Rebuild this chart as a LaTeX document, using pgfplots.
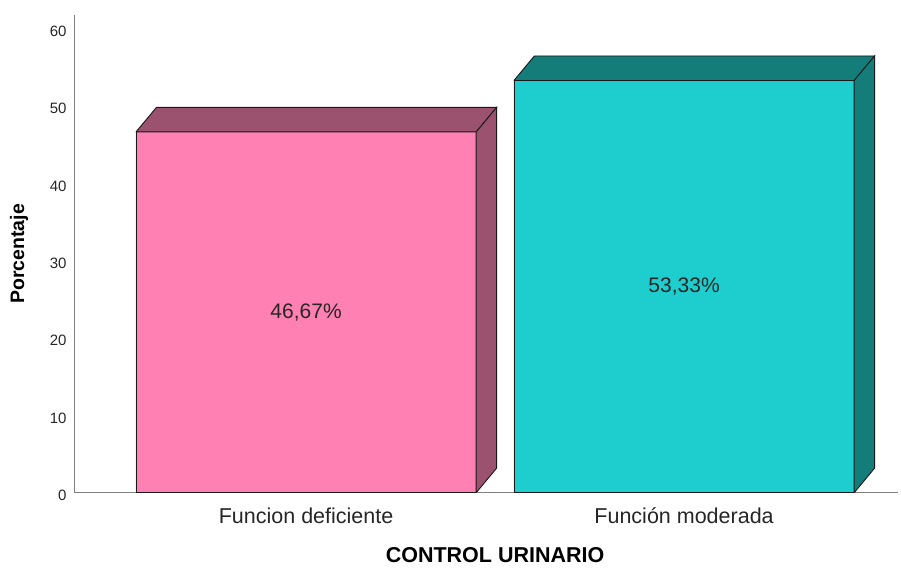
\documentclass[border=0pt]{standalone}
\usepackage{pgfplots}
\pgfplotsset{compat=1.18}
\usepackage{fontspec}
\setmainfont{Liberation Sans}
\definecolor{pinkF}{RGB}{255,128,178}
\definecolor{pinkD}{RGB}{155,82,110}
\definecolor{tealF}{RGB}{30,206,206}
\definecolor{tealD}{RGB}{20,125,122}
\definecolor{edge}{RGB}{25,25,25}
\begin{document}
\begin{tikzpicture}
\useasboundingbox (-74pt,-75.3pt) rectangle (827pt,492.7pt);
\begin{axis}[
  at={(0pt,0pt)}, anchor=south west,
  scale only axis, width=824pt, height=477.7pt,
  xmin=-0.614, xmax=1.566, ymin=0, ymax=61.8,
  axis x line=bottom, axis y line=left,
  axis line style={-, draw=gray, line width=0.8pt},
  xtick={0,1}, xticklabels={Funcion deficiente, Función moderada},
  ytick={0,10,20,30,40,50,60},
  major tick length=0pt,
  /pgf/number format/assume math mode=true,
  yticklabel style={font=\fontsize{15}{15}\selectfont, inner sep=0pt, anchor=east, xshift=-7.3pt, yshift=-2.5pt, text=black!85},
  xticklabel style={font=\fontsize{21.5}{22}\selectfont, inner sep=0pt, anchor=base, yshift=-30.3pt, text=black!85},
  xlabel={CONTROL URINARIO},
  xlabel style={font=\bfseries\fontsize{21.5}{22}\selectfont, at={(axis description cs:0.511,-0.1315)}, anchor=center},
  ylabel={Porcentaje},
  ylabel style={font=\bfseries\fontsize{19.5}{20}\selectfont, at={(axis description cs:-0.0667,0.5)}, anchor=center},
  clip=false,
]
% Bar 1: Funcion deficiente, 46.67
\addplot[fill=pinkF, draw=edge, line width=0.9pt, mark=none] coordinates {(-0.45,0) (-0.45,46.67) (0.45,46.67) (0.45,0) (-0.45,0)};
\addplot[fill=pinkD, draw=edge, line width=0.9pt, mark=none] coordinates {(-0.45,46.67) (-0.396,49.84) (0.504,49.84) (0.45,46.67) (-0.45,46.67)};
\addplot[fill=pinkD, draw=edge, line width=0.9pt, mark=none] coordinates {(0.45,0) (0.45,46.67) (0.504,49.84) (0.504,3.17) (0.45,0)};
% Bar 2: Función moderada, 53.33
\addplot[fill=tealF, draw=edge, line width=0.9pt, mark=none] coordinates {(0.55,0) (0.55,53.33) (1.45,53.33) (1.45,0) (0.55,0)};
\addplot[fill=tealD, draw=edge, line width=0.9pt, mark=none] coordinates {(0.55,53.33) (0.604,56.50) (1.504,56.50) (1.45,53.33) (0.55,53.33)};
\addplot[fill=tealD, draw=edge, line width=0.9pt, mark=none] coordinates {(1.45,0) (1.45,53.33) (1.504,56.50) (1.504,3.17) (1.45,0)};
\node[font=\fontsize{21}{21}\selectfont, text=black!85] at (axis cs:0,23.335) {46,67\%};
\node[font=\fontsize{21}{21}\selectfont, text=black!85] at (axis cs:1,26.665) {53,33\%};
\end{axis}
\end{tikzpicture}
\end{document}
